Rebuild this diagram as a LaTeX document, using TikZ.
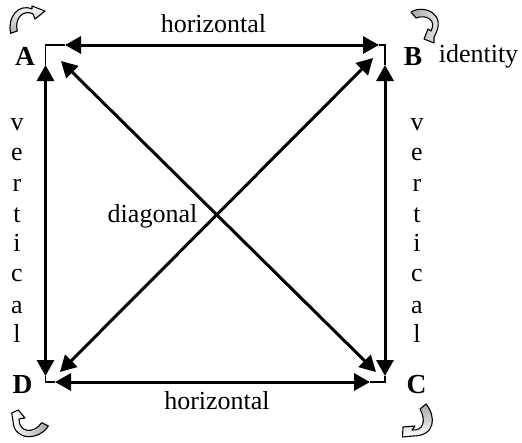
\documentclass[tikz,border=0pt]{standalone}
\usepackage{fontspec}
\setmainfont{Liberation Serif}
\usetikzlibrary{arrows.meta}
\tikzset{
  x=1pt,y=-1pt,
  link/.style={line width=3pt,{Triangle[length=16pt,width=17pt]}-{Triangle[length=16pt,width=17pt]}},
  corner/.style={line width=1.6pt},
  lab/.style={font=\fontsize{26}{26}\selectfont,inner sep=0pt,anchor=base},
  big/.style={font=\fontsize{27.5}{27.5}\selectfont\bfseries,inner sep=0pt,anchor=base},
  ribbon/.style={draw=black,line width=1.1pt,line join=round},
}
\begin{document}
\begin{tikzpicture}
\useasboundingbox (0,0) rectangle (522,442);
\coordinate (A) at (45.5,45);
\coordinate (B) at (385,45);
\coordinate (C) at (385,382);
\coordinate (D) at (45.5,382);
\coordinate (Ah) at (65,45); \coordinate (Bh) at (379,45);
\coordinate (Av) at (45.5,65); \coordinate (Dv) at (45.5,376);
\coordinate (Bv) at (385,65); \coordinate (Cv) at (385,376);
\coordinate (Dh) at (55,382); \coordinate (Ch) at (370,382);
\coordinate (Ad) at (61,61); \coordinate (Cd) at (376,372);
\coordinate (Bd) at (373,58); \coordinate (Dd) at (60,372);
\draw[corner] (Ah) -- (A) -- (Av);
\draw[corner] (Bh) -- (B) -- (Bv);
\draw[corner] (Ch) -- (C) -- (Cv);
\draw[corner] (Dh) -- (D) -- (Dv);
\draw[link] (Ah) -- (Bh);
\draw[link] (Dh) -- (Ch);
\draw[link] (Av) -- (Dv);
\draw[link] (Bv) -- (Cv);
\draw[link] (Ad) -- (Cd);
\draw[link] (Bd) -- (Dd);
\node[big] (la) at (25,65.5) {A};
\node[big] (lb) at (413,65) {B};
\node[big] (lc) at (416.5,393.5) {C};
\node[big] (ld) at (22.5,393) {D};
\node[lab] (h1) at (213.5,32) {horizontal};
\node[lab] (h2) at (217,409) {horizontal};
\node[lab] (id) at (478.5,62) {identity};
\node[lab] (dg) at (152.5,222) {diagonal};
\foreach \x/\n in {17/p,417/q}{
 \node[lab] (\n1) at (\x,130) {v};
 \node[lab] (\n2) at (\x,160.7) {e};
 \node[lab] (\n3) at (\x,191.7) {r};
 \node[lab] (\n4) at (\x,222.7) {t};
 \node[lab] (\n5) at (\x,251.7) {i};
 \node[lab] (\n6) at (\x,281.7) {c};
 \node[lab] (\n7) at (\x,313) {a};
 \node[lab] (\n8) at (\x,342.7) {l};
}
% rotation icons
\path[ribbon,bottom color=black!30,top color=white]
  (10.7,33.3) .. controls (7,18) and (18,3) .. (32,9) -- (32,6) -- (45,11) -- (35,19) -- (33,14)
  .. controls (24,9) and (14,18) .. (17.3,31) -- cycle;
\path[ribbon,left color=black!35,right color=white]
  (411,12) .. controls (424,4) and (448,14) .. (434,37) -- (434,43) -- (424,39) -- (428,29) -- (431,31)
  .. controls (437,20) and (426,14) .. (416,18) -- cycle;
\path[ribbon,left color=white,right color=black!35]
  (48.3,426) .. controls (40,440) and (14,442) .. (13,421) -- (11.7,413) -- (18.3,410) -- (25,418) -- (19,419)
  .. controls (19,433) and (34,434) .. (41.7,422.7) -- cycle;
\path[ribbon,top color=black!35,bottom color=white]
  (426,404) .. controls (436,416) and (436,436) .. (413,436) -- (402.5,437) -- (403,427) -- (415,426) -- (412,430)
  .. controls (424,431) and (426,420) .. (420,409) -- cycle;
\end{tikzpicture}
\end{document}
